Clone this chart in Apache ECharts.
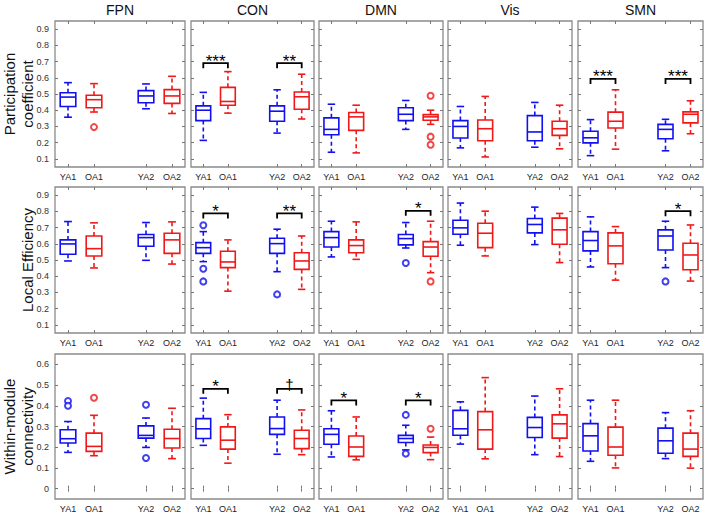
<!DOCTYPE html>
<html>
<head>
<meta charset="utf-8">
<script src="https://cdn.jsdelivr.net/npm/echarts@6/dist/echarts.min.js"></script>
<style>html,body{margin:0;padding:0;background:#fff}#main{width:708px;height:515px}</style>
</head>
<body>
<div id="main"></div>
<script>
// ---------- data ----------
const networks = ['FPN', 'CON', 'DMN', 'Vis', 'SMN'];
const metrics = ['Participation\ncoefficient', 'Local Efficiency', 'Within-module\nconnectivity'];
const groups = ['YA1', 'OA1', '', 'YA2', 'OA2'];
const boxSlots = [0, 1, 3, 4];

const yTicksPC = [0.1, 0.2, 0.3, 0.4, 0.5, 0.6, 0.7, 0.8, 0.9];
const yTicksLE = [0.1, 0.2, 0.3, 0.4, 0.5, 0.6, 0.7, 0.8, 0.9];
const yTicksWM = [0, 0.1, 0.2, 0.3, 0.4, 0.5, 0.6];

// [min, q1, median, q3, max] for YA1, OA1, YA2, OA2 in each network
const partCoefStats = [
  [[0.357,0.423,0.481,0.508,0.570],[0.389,0.415,0.465,0.492,0.564],[0.409,0.446,0.488,0.521,0.562],[0.380,0.442,0.488,0.527,0.609]],
  [[0.214,0.336,0.400,0.427,0.510],[0.382,0.431,0.454,0.541,0.638],[0.259,0.332,0.394,0.427,0.526],[0.346,0.406,0.483,0.512,0.622]],
  [[0.141,0.249,0.282,0.353,0.437],[0.137,0.276,0.359,0.386,0.431],[0.282,0.336,0.375,0.415,0.460],[0.313,0.338,0.359,0.373,0.400]],
  [[0.168,0.229,0.300,0.336,0.423],[0.112,0.212,0.286,0.340,0.485],[0.172,0.212,0.266,0.367,0.448],[0.162,0.245,0.286,0.332,0.431]],
  [[0.120,0.199,0.230,0.270,0.342],[0.160,0.290,0.332,0.388,0.526],[0.150,0.224,0.282,0.313,0.344],[0.255,0.322,0.375,0.390,0.458]]
];
const localEffStats = [
  [[0.494,0.535,0.599,0.624,0.737],[0.451,0.525,0.570,0.648,0.729],[0.498,0.585,0.638,0.657,0.731],[0.475,0.541,0.624,0.665,0.735]],
  [[0.490,0.541,0.576,0.607,0.675],[0.308,0.453,0.488,0.554,0.624],[0.428,0.541,0.601,0.634,0.690],[0.319,0.442,0.494,0.545,0.648]],
  [[0.519,0.580,0.638,0.675,0.739],[0.504,0.545,0.589,0.624,0.735],[0.574,0.593,0.632,0.657,0.731],[0.422,0.523,0.580,0.613,0.739]],
  [[0.591,0.659,0.698,0.745,0.851],[0.525,0.576,0.665,0.727,0.801],[0.595,0.667,0.719,0.756,0.826],[0.484,0.597,0.686,0.758,0.787]],
  [[0.457,0.556,0.620,0.675,0.766],[0.376,0.477,0.587,0.667,0.706],[0.453,0.562,0.648,0.686,0.739],[0.370,0.440,0.531,0.603,0.716]]
];
const withinModStats = [
  [[0.175,0.220,0.241,0.284,0.324],[0.159,0.180,0.204,0.268,0.354],[0.199,0.244,0.257,0.303,0.341],[0.145,0.196,0.242,0.287,0.388]],
  [[0.209,0.242,0.289,0.338,0.437],[0.123,0.191,0.234,0.298,0.357],[0.166,0.262,0.290,0.346,0.427],[0.164,0.193,0.242,0.282,0.380]],
  [[0.153,0.214,0.262,0.289,0.376],[0.139,0.156,0.201,0.254,0.346],[0.187,0.223,0.242,0.257,0.306],[0.140,0.174,0.199,0.211,0.249]],
  [[0.215,0.258,0.289,0.378,0.419],[0.144,0.191,0.284,0.372,0.536],[0.164,0.247,0.295,0.344,0.447],[0.155,0.244,0.313,0.356,0.482]],
  [[0.132,0.182,0.255,0.314,0.427],[0.100,0.161,0.201,0.297,0.427],[0.145,0.171,0.231,0.292,0.367],[0.099,0.156,0.191,0.268,0.376]]
];

// outliers: [network index, group slot, value]
const partCoefOutliers = [[0,1,0.296],[2,4,0.489],[2,4,0.237],[2,4,0.187]];
const localEffOutliers = [[1,0,0.714],[1,0,0.446],[1,0,0.368],[1,3,0.288],[2,3,0.481],[2,4,0.368],[4,3,0.368]];
const withinModOutliers = [[0,0,0.423],[0,0,0.400],[0,1,0.439],[0,3,0.405],[0,3,0.148],[2,3,0.356],[2,3,0.169],[2,4,0.289]];

// significance brackets: [network index, slot a, slot b, height, label]
const partCoefSig = [[1,0,1,0.69,'***'],[1,3,4,0.69,'**'],[4,0,1,0.593,'***'],[4,3,4,0.593,'***']];
const localEffSig = [[1,0,1,0.787,'*'],[1,3,4,0.787,'**'],[2,3,4,0.803,'*'],[4,3,4,0.801,'*']];
const withinModSig = [[1,0,1,0.482,'*'],[1,3,4,0.482,'\u2020'],[2,0,1,0.426,'*'],[2,3,4,0.426,'*']];

// ---------- layout ----------
const rowsStats = [partCoefStats, localEffStats, withinModStats];
const rowsOut = [partCoefOutliers, localEffOutliers, withinModOutliers];
const rowsSig = [partCoefSig, localEffSig, withinModSig];
const rowsTicks = [yTicksPC, yTicksLE, yTicksWM];
const yMin = [0.05, 0.05, -0.05];
const yMax = [0.95, 0.95, 0.65];

const colLeft = [55, 191, 319, 448, 578];
const colRight = [185, 314, 443, 572, 703];
const rowTop = [21, 187, 354];
const rowBottom = [167, 333, 499];

const BLUE = '#1010f0';
const RED = '#f01818';
const FONT = '"Liberation Sans", Arial, Helvetica, sans-serif';

function slotColor(s) { return (s === 0 || s === 3) ? BLUE : RED; }

function renderBox(params, api) {
  const cat = api.value(0);
  const pMin = api.coord([cat, api.value(1)]);
  const pQ1 = api.coord([cat, api.value(2)]);
  const pMed = api.coord([cat, api.value(3)]);
  const pQ3 = api.coord([cat, api.value(4)]);
  const pMax = api.coord([cat, api.value(5)]);
  const band = api.size([1, 0])[0];
  const bw = band * 0.6, cw = band * 0.3;
  const x = pMed[0];
  const c = slotColor(cat);
  const solid = { stroke: c, lineWidth: 1.6, fill: null };
  const dashed = { stroke: c, lineWidth: 1.6, lineDash: [4, 3] };
  return {
    type: 'group',
    children: [
      { type: 'line', shape: { x1: x, y1: pQ3[1], x2: x, y2: pMax[1] }, style: dashed },
      { type: 'line', shape: { x1: x, y1: pQ1[1], x2: x, y2: pMin[1] }, style: dashed },
      { type: 'line', shape: { x1: x - cw / 2, y1: pMax[1], x2: x + cw / 2, y2: pMax[1] }, style: solid },
      { type: 'line', shape: { x1: x - cw / 2, y1: pMin[1], x2: x + cw / 2, y2: pMin[1] }, style: solid },
      { type: 'rect', shape: { x: x - bw / 2, y: pQ3[1], width: bw, height: pQ1[1] - pQ3[1] }, style: { stroke: c, lineWidth: 1.6, fill: 'none' } },
      { type: 'line', shape: { x1: x - bw / 2, y1: pMed[1], x2: x + bw / 2, y2: pMed[1] }, style: solid }
    ]
  };
}

function makeSigRenderer(labels) {
  return function (params, api) {
    const p1 = api.coord([api.value(0), api.value(2)]);
    const p2 = api.coord([api.value(1), api.value(2)]);
    const drop = 5;
    const lab = labels[params.dataIndex];
    const isDagger = lab === '\u2020';
    return {
      type: 'group',
      children: [
        { type: 'polyline', shape: { points: [[p1[0], p1[1] + drop], [p1[0], p1[1]], [p2[0], p2[1]], [p2[0], p2[1] + drop]] },
          style: { stroke: '#000', lineWidth: 1.8, fill: null } },
        { type: 'text', x: (p1[0] + p2[0]) / 2, y: p1[1] - (isDagger ? 4 : 2),
          style: { text: lab, fill: '#000', fontSize: isDagger ? 15 : 17, fontFamily: FONT, align: 'center', verticalAlign: 'middle' } }
      ]
    };
  };
}

const grids = [], xAxes = [], yAxes = [], series = [];
for (let r = 0; r < 3; r++) {
  for (let c = 0; c < 5; c++) {
    const gi = r * 5 + c;
    grids.push({
      left: colLeft[c], top: rowTop[r], width: colRight[c] - colLeft[c], height: rowBottom[r] - rowTop[r],
      show: true, borderColor: '#8a8a8a', borderWidth: 1.3, backgroundColor: '#fff', containLabel: false
    });
    const tickCommon = { show: true, inside: true, length: 3, lineStyle: { color: '#777', width: 1 } };
    xAxes.push({
      type: 'category', gridIndex: gi, data: groups, position: 'bottom', boundaryGap: true,
      axisLine: { show: false },
      axisTick: Object.assign({ alignWithLabel: true, interval: (i) => i !== 2 }, tickCommon),
      axisLabel: { interval: 0, fontSize: 9, color: '#222', margin: 5, fontFamily: FONT },
      splitLine: { show: false }
    });
    xAxes.push({
      type: 'category', gridIndex: gi, data: groups, position: 'top', boundaryGap: true,
      axisLine: { show: false },
      axisTick: Object.assign({ alignWithLabel: true, interval: (i) => i !== 2 }, tickCommon),
      axisLabel: { show: false }, splitLine: { show: false }
    });
    const ticks = rowsTicks[r];
    yAxes.push({
      type: 'value', gridIndex: gi, min: yMin[r], max: yMax[r], position: 'left',
      axisLine: { show: false }, splitLine: { show: false },
      axisTick: Object.assign({ customValues: ticks }, tickCommon),
      axisLabel: { show: c === 0, customValues: ticks, fontSize: 9, color: '#333', margin: 6, fontFamily: FONT,
        formatter: (v) => (Math.abs(v) < 1e-9 ? '0' : (+v).toFixed(1)) }
    });
    yAxes.push({
      type: 'value', gridIndex: gi, min: yMin[r], max: yMax[r], position: 'right',
      axisLine: { show: false }, splitLine: { show: false },
      axisTick: Object.assign({ customValues: ticks }, tickCommon),
      axisLabel: { show: false }
    });
    const xi = gi * 2, yi = gi * 2;
    const boxData = rowsStats[r][c].map((s, k) => [boxSlots[k]].concat(s));
    series.push({
      type: 'custom', xAxisIndex: xi, yAxisIndex: yi, renderItem: renderBox, data: boxData,
      encode: { x: 0, y: [1, 2, 3, 4, 5] }, silent: true, z: 3
    });
    const outs = rowsOut[r].filter(o => o[0] === c).map(o => ({
      value: [o[1], o[2]], itemStyle: { color: slotColor(o[1]), borderColor: slotColor(o[1]), borderWidth: 1.6 }
    }));
    if (outs.length) {
      series.push({ type: 'scatter', xAxisIndex: xi, yAxisIndex: yi, symbol: 'emptyCircle', symbolSize: 6, data: outs, silent: true, z: 4 });
    }
    const sigs = rowsSig[r].filter(s => s[0] === c);
    if (sigs.length) {
      series.push({
        type: 'custom', xAxisIndex: xi, yAxisIndex: yi, renderItem: makeSigRenderer(sigs.map(s => s[4])),
        data: sigs.map(s => [s[1], s[2], s[3]]), encode: { x: [0, 1], y: 2 }, silent: true, z: 5
      });
    }
  }
}

const graphics = [];
networks.forEach((n, c) => {
  graphics.push({ type: 'text', x: (colLeft[c] + colRight[c]) / 2, y: 10,
    style: { text: n, fill: '#111', fontSize: 14, fontFamily: FONT, align: 'center', verticalAlign: 'middle' } });
});
const rowLabelX = [18, 27, 18];
metrics.forEach((m, r) => {
  graphics.push({ type: 'text', x: rowLabelX[r], y: (rowTop[r] + rowBottom[r]) / 2, rotation: Math.PI / 2,
    style: { text: m, fill: '#111', fontSize: 15, lineHeight: 18, fontFamily: FONT, align: 'center', verticalAlign: 'middle' } });
});

const chart = echarts.init(document.getElementById('main'), null, { renderer: 'svg' });
chart.setOption({
  animation: false,
  backgroundColor: '#fff',
  grid: grids,
  xAxis: xAxes,
  yAxis: yAxes,
  series: series,
  graphic: graphics
});
</script>
</body>
</html>
